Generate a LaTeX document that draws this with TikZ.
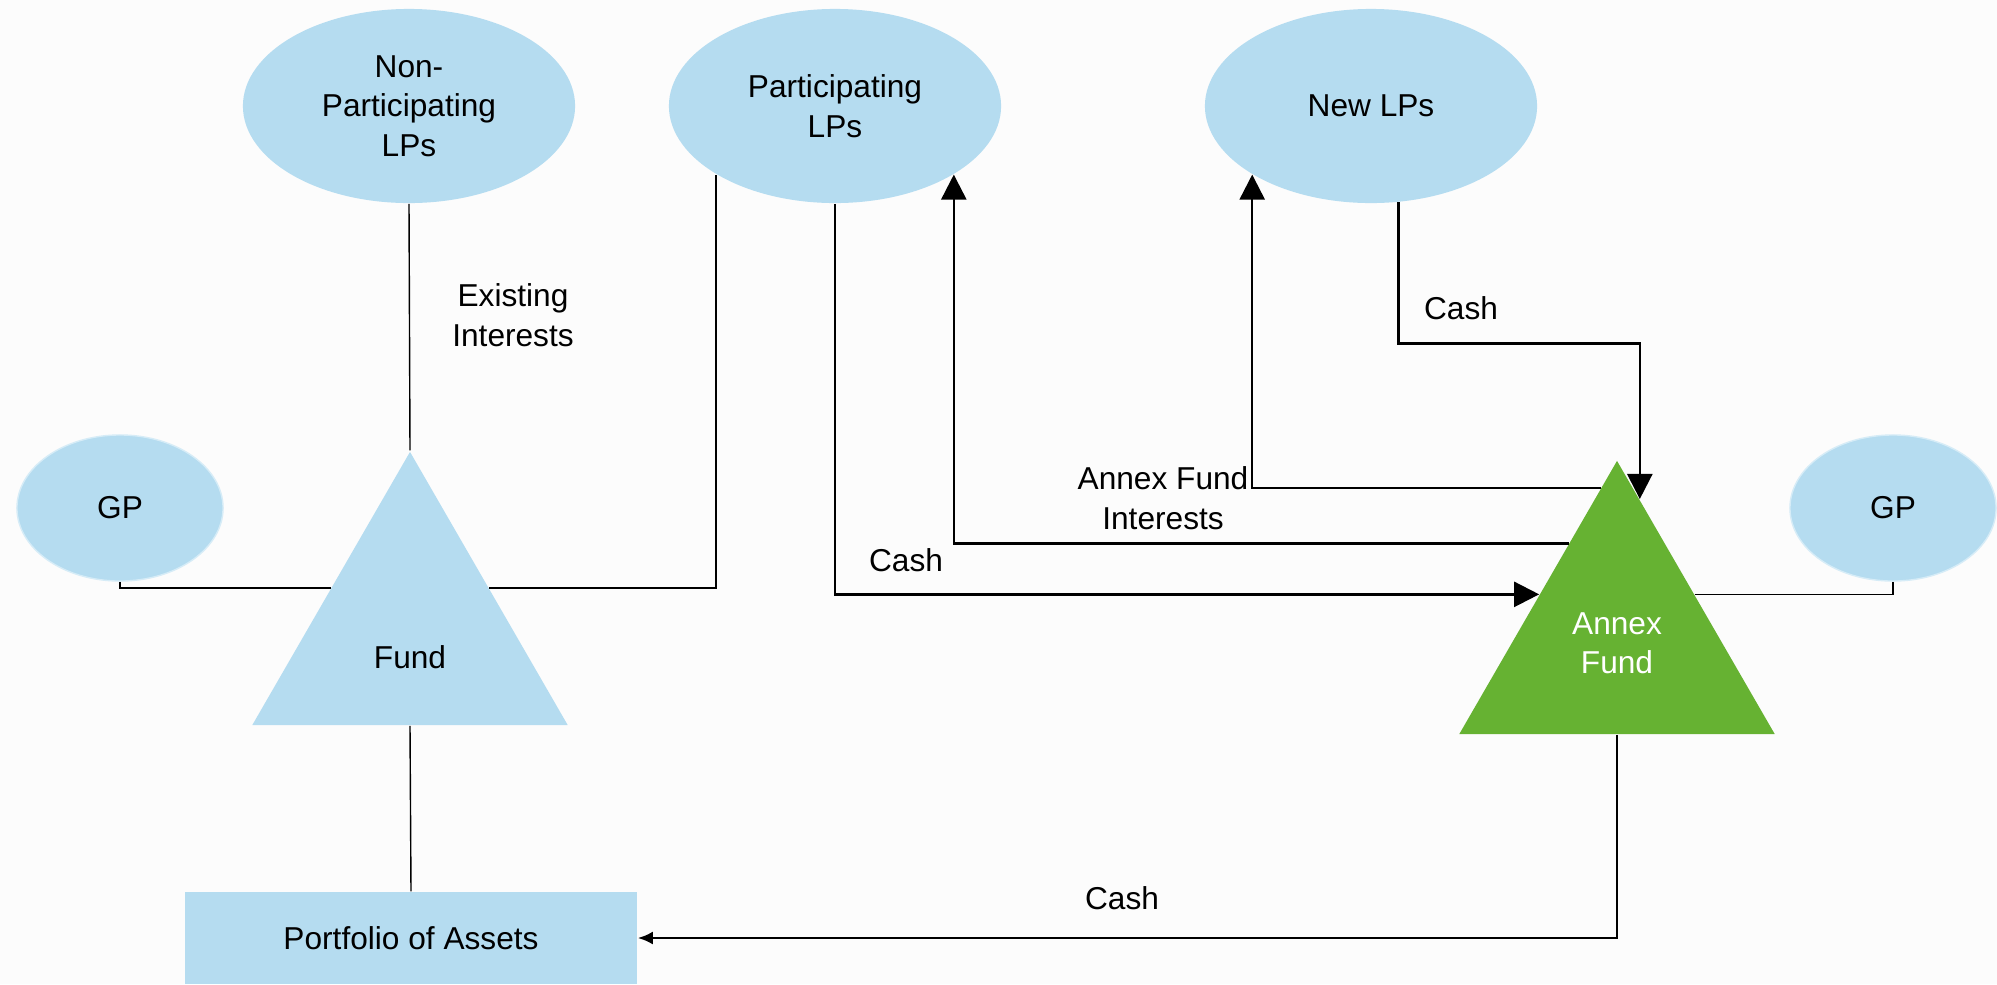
\documentclass[tikz,border=0pt]{standalone}
\usepackage{fontspec}
\setmainfont{Liberation Sans}
\usetikzlibrary{positioning}
\usetikzlibrary{arrows.meta}
\usetikzlibrary{shapes.geometric}

\definecolor{lpblue}{HTML}{B5DCF0}
\definecolor{annexgreen}{HTML}{66B232}
\definecolor{paper}{HTML}{FCFCFC}

\begin{document}
\begin{tikzpicture}[x=0.01cm,y=-0.01cm,font=\fontsize{9}{11.2}\selectfont]

\tikzstyle{lp}=[ellipse, fill=lpblue, minimum width=3.32cm, minimum height=1.94cm, inner sep=0pt, align=center]
\tikzstyle{gp}=[ellipse, fill=lpblue, draw=lpblue!55, minimum width=2.06cm, minimum height=1.46cm, inner sep=0pt]
\tikzstyle{fundtri}=[regular polygon, regular polygon sides=3, minimum size=3.64cm, inner sep=0pt]
\tikzstyle{assetbox}=[rectangle, fill=lpblue, minimum width=4.52cm, minimum height=0.92cm]
\tikzstyle{tag}=[align=center, inner sep=0pt]
\tikzstyle{link}=[line width=0.4pt]
\tikzstyle{flow}=[line width=0.7pt, -{Triangle[length=2.5mm,width=2.5mm]}]

\fill[paper] (0,0) rectangle (1997,984);
\useasboundingbox (0,0) rectangle (1997,984);

\node[lp] (nonpart) at (409,106) {Non-\\Participating\\LPs};
\node[lp] (part) at (835,106) {Participating\\LPs};
\node[lp] (newlp) at (1371,106) {New LPs};
\node[gp] (gpleft) at (120,508) {GP};
\node[gp] (gpright) at (1893,508) {GP};
\node[fundtri, fill=lpblue] (fund) at (410,634) {};
\node[tag] (fundname) at (410,657) {Fund};
\node[fundtri, fill=annexgreen, text=white, align=center] (annex) at (1617,643) {Annex\\Fund};
\node[assetbox] (portfolio) at (411,938) {Portfolio of Assets};

\node[tag] (existing) at (513,315) {Existing\\Interests};
\node[tag] (cashpart) at (906,560) {Cash};
\node[tag] (annexint) at (1163,498) {Annex Fund\\Interests};
\node[tag] (cashnew) at (1461,308) {Cash};
\node[tag] (cashout) at (1122,898) {Cash};

\draw[link](nonpart.south) -- (fund.north);
\draw[link](gpleft.south) |- (fund.150);
\draw[link](fund.30) -| (part.210);
\draw[link](fund.south) -- (portfolio.north);
\draw[link](annex.32) -| (gpright.south);

\draw[flow](part.south) |- (annex.148);
\draw[flow](annex.116) -| (part.330);
\draw[flow](annex.96) -| (newlp.210);
\draw[flow](newlp.286) -- ++(0,141) -| (annex.81);
\draw[line width=0.7pt, -{Latex[length=1.5mm,width=1.3mm]}](annex.south) |- (portfolio.east);

\end{tikzpicture}
\end{document}
